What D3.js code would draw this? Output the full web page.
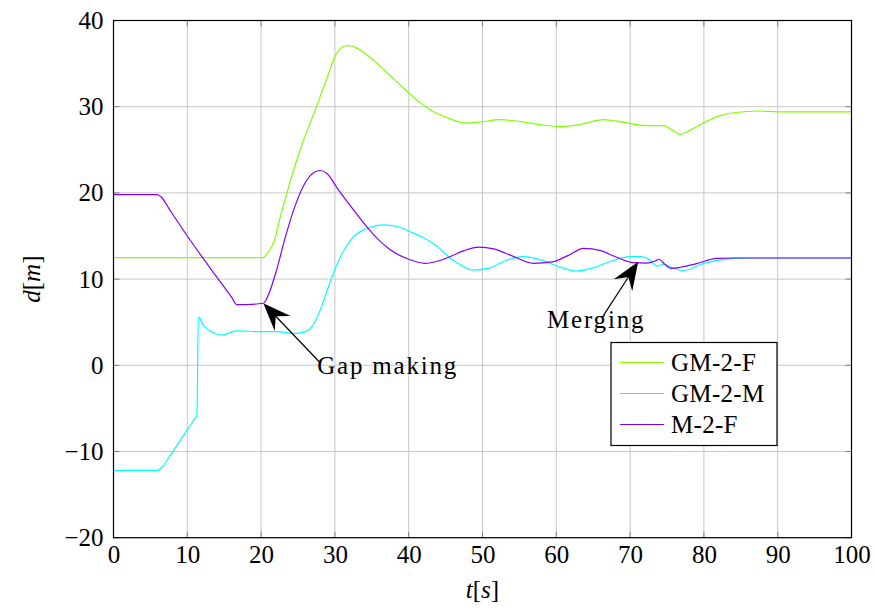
<!DOCTYPE html>
<html>
<head>
<meta charset="utf-8">
<script src="https://cdn.jsdelivr.net/npm/d3@7"></script>
<style>
  html, body { margin: 0; padding: 0; background: #fff; }
  svg { display: block; }
</style>
</head>
<body>
<div id="chart"></div>
<script>
// values
const xTicks = [0, 10, 20, 30, 40, 50, 60, 70, 80, 90, 100];
const yTicks = [-20, -10, 0, 10, 20, 30, 40];

const gm2fT = [0, 20.3, 21, 21.7, 22.6, 23.5, 25.3, 27.5, 29, 30, 31, 31.8, 33, 34.5, 36, 38, 40, 41.5, 43, 45, 47.8, 49.5, 52.4, 55, 58, 60.5, 63, 66.4, 69, 72.2, 74.5, 75.5, 76.8, 78, 79.9, 82, 84, 87.6, 90, 100];
const gm2fD = [12.5, 12.5, 13.2, 14.2, 17.2, 20, 25, 30, 33.5, 35.8, 36.9, 37.1, 36.8, 35.9, 34.8, 33.2, 31.6, 30.5, 29.6, 28.8, 28.1, 28.2, 28.5, 28.3, 27.9, 27.7, 27.9, 28.5, 28.2, 27.8, 27.8, 27.4, 26.8, 27.2, 28.1, 28.9, 29.3, 29.5, 29.4, 29.4];

const gm2mT = [0, 5.9, 6.6, 7.5, 9.4, 11.0, 11.3, 11.5, 12.2, 13.5, 14.7, 15.8, 16.7, 19.8, 22, 24.8, 26, 27, 28, 29, 29.8, 31, 32.5, 34.5, 36.6, 38.5, 40.2, 42, 43.3, 46, 48.75, 51, 53, 55.5, 58, 60.5, 62.8, 65, 67.5, 70, 71.5, 72.7, 73.6, 74.5, 75.5, 77.2, 79.9, 82, 84, 86, 100];
const gm2mD = [-12.2, -12.2, -11.8, -10.7, -8.25, -6.2, -5.8, 5.6, 4.6, 3.8, 3.5, 3.8, 4.0, 3.9, 3.9, 3.7, 3.9, 4.6, 6.4, 8.8, 10.7, 13.0, 14.9, 15.9, 16.3, 16.1, 15.5, 14.8, 14.15, 12.2, 11.05, 11.3, 12.1, 12.6, 12.2, 11.4, 10.94, 11.3, 12.1, 12.6, 12.6, 12.2, 11.5, 11.7, 11.4, 11.0, 11.8, 12.2, 12.4, 12.45, 12.45];

const m2fT = [0, 5.9, 6.5, 7.5, 10, 13, 16, 16.7, 18, 20.3, 21, 22.1, 23.2, 24.4, 26.2, 27.2, 28, 29, 30.2, 32, 34.3, 36, 37.5, 40, 42.2, 44, 45.6, 47.5, 49.5, 51.5, 54, 56.9, 59.5, 61.5, 63.7, 66, 68, 70.4, 72.2, 73.4, 73.9, 74.6, 75.6, 77, 79, 81.7, 84, 100];
const m2fD = [19.8, 19.8, 19.5, 18.2, 15.0, 11.4, 7.9, 7.05, 7.05, 7.2, 8.2, 11.05, 14.6, 18, 21.5, 22.4, 22.6, 22.2, 20.7, 18.6, 16.1, 14.5, 13.4, 12.3, 11.83, 12.1, 12.6, 13.3, 13.7, 13.5, 12.7, 11.83, 12.0, 12.7, 13.57, 13.3, 12.6, 11.9, 11.85, 12.1, 12.3, 11.8, 11.25, 11.4, 11.8, 12.4, 12.45, 12.45];

const seriesNames = ['GM-2-F', 'GM-2-M', 'M-2-F'];
const seriesColors = ['#80ff00', '#00ffff', '#8000ff'];

const series = [
  { name: seriesNames[0], color: seriesColors[0], values: gm2fT.map((t, i) => ({ t, d: gm2fD[i] })) },
  { name: seriesNames[1], color: seriesColors[1], values: gm2mT.map((t, i) => ({ t, d: gm2mD[i] })) },
  { name: seriesNames[2], color: seriesColors[2], values: m2fT.map((t, i) => ({ t, d: m2fD[i] })) }
];

const annotations = [
  { label: 'Gap making', from: [28, 0.3], to: [20.3, 7.2], textAt: [27.6, 0], anchor: 'start' },
  { label: 'Merging', from: [66.4, 5.8], to: [71.1, 12.0], textAt: [65.4, 5.3], anchor: 'middle' }
];

const FONT = 'Liberation Serif';
const FS = 25;

const totalW = 875, totalH = 611;
const margin = { top: 20.5, right: 23.5, bottom: 73.3, left: 113.5 };
const width = totalW - margin.left - margin.right;
const height = totalH - margin.top - margin.bottom;

const svg = d3.select('#chart')
  .append('svg')
  .attr('width', totalW)
  .attr('height', totalH)
  .attr('font-family', FONT)
  .attr('font-size', FS);

const g = svg.append('g')
  .attr('transform', `translate(${margin.left},${margin.top})`);

const x = d3.scaleLinear().domain([0, 100]).range([0, width]);
const y = d3.scaleLinear().domain([-20, 40]).range([height, 0]);

// grid
g.append('g')
  .selectAll('line')
  .data(xTicks)
  .join('line')
  .attr('x1', d => x(d)).attr('x2', d => x(d))
  .attr('y1', 0).attr('y2', height)
  .attr('stroke', '#c8c8c8')
  .attr('stroke-width', 1);

g.append('g')
  .selectAll('line')
  .data(yTicks)
  .join('line')
  .attr('y1', d => y(d)).attr('y2', d => y(d))
  .attr('x1', 0).attr('x2', width)
  .attr('stroke', '#c8c8c8')
  .attr('stroke-width', 1);

// inner tick marks on all four sides
const tickLen = 6;
const ticks = g.append('g').attr('stroke', '#808080').attr('stroke-width', 1);
xTicks.forEach(t => {
  ticks.append('line').attr('x1', x(t)).attr('x2', x(t)).attr('y1', height).attr('y2', height - tickLen);
  ticks.append('line').attr('x1', x(t)).attr('x2', x(t)).attr('y1', 0).attr('y2', tickLen);
});
yTicks.forEach(v => {
  ticks.append('line').attr('y1', y(v)).attr('y2', y(v)).attr('x1', 0).attr('x2', tickLen);
  ticks.append('line').attr('y1', y(v)).attr('y2', y(v)).attr('x1', width).attr('x2', width - tickLen);
});

// tick labels via d3 axes
const xAxis = g.append('g')
  .attr('transform', `translate(0,${height})`)
  .call(d3.axisBottom(x).tickValues(xTicks).tickSize(0).tickPadding(8).tickFormat(d3.format('d')))
  .attr('font-family', FONT)
  .attr('font-size', FS);
xAxis.select('.domain').remove();
xAxis.selectAll('text').attr('fill', '#000');

const yAxis = g.append('g')
  .call(d3.axisLeft(y).tickValues(yTicks).tickSize(0).tickPadding(10)
    .tickFormat(d => d < 0 ? '\u2212' + Math.abs(d) : d))
  .attr('font-family', FONT)
  .attr('font-size', FS);
yAxis.select('.domain').remove();
yAxis.selectAll('text').attr('fill', '#000');

// lines
const line = d3.line()
  .x(d => x(d.t))
  .y(d => y(d.d))
  .curve(d3.curveMonotoneX);

g.append('g')
  .selectAll('path')
  .data(series)
  .join('path')
  .attr('d', d => line(d.values))
  .attr('fill', 'none')
  .attr('stroke', d => d.color)
  .attr('stroke-width', 1.2);

// frame
g.append('rect')
  .attr('width', width).attr('height', height)
  .attr('fill', 'none')
  .attr('stroke', '#000')
  .attr('stroke-width', 1.2);

// annotations with arrows
annotations.forEach(a => {
  const x0 = x(a.from[0]), y0 = y(a.from[1]);
  const x1 = x(a.to[0]), y1 = y(a.to[1]);
  const ang = Math.atan2(y1 - y0, x1 - x0);
  const L = 28, W = 11, notch = 18;
  const bx = x1 - L * Math.cos(ang), by = y1 - L * Math.sin(ang);
  const nx = x1 - notch * Math.cos(ang), ny = y1 - notch * Math.sin(ang);
  const px = -Math.sin(ang), py = Math.cos(ang);

  g.append('line')
    .attr('x1', x0).attr('y1', y0)
    .attr('x2', nx).attr('y2', ny)
    .attr('stroke', '#000')
    .attr('stroke-width', 1.2);

  g.append('path')
    .attr('d', `M${x1},${y1} L${bx + W * px},${by + W * py} L${nx},${ny} L${bx - W * px},${by - W * py} Z`)
    .attr('fill', '#000');

  g.append('text')
    .attr('x', x(a.textAt[0]))
    .attr('y', y(a.textAt[1]))
    .attr('dy', '0.33em')
    .attr('text-anchor', a.anchor)
    .attr('letter-spacing', 1.8)
    .text(a.label);
});

// legend
const legend = svg.append('g').attr('transform', 'translate(611,342.5)');
legend.append('rect')
  .attr('width', 166).attr('height', 103)
  .attr('fill', '#fff')
  .attr('stroke', '#000')
  .attr('stroke-width', 1.2);

const rows = legend.selectAll('g.row')
  .data(series)
  .join('g')
  .attr('class', 'row')
  .attr('transform', (d, i) => `translate(0,${20 + i * 31})`);

rows.append('line')
  .attr('x1', 9).attr('x2', 53)
  .attr('stroke', d => d.color)
  .attr('stroke-width', 1.2);

rows.append('text')
  .attr('x', 60)
  .attr('dy', '0.33em')
  .attr('letter-spacing', 0.3)
  .text(d => d.name);

// axis titles
const xt = svg.append('text')
  .attr('x', margin.left + width / 2)
  .attr('y', 598)
  .attr('text-anchor', 'middle');
xt.append('tspan').attr('font-style', 'italic').text('t');
xt.append('tspan').text('[');
xt.append('tspan').attr('font-style', 'italic').text('s');
xt.append('tspan').text(']');

const yt = svg.append('text')
  .attr('transform', `translate(40,${margin.top + height / 2}) rotate(-90)`)
  .attr('text-anchor', 'middle');
yt.append('tspan').attr('font-style', 'italic').text('d');
yt.append('tspan').text('[');
yt.append('tspan').attr('font-style', 'italic').text('m');
yt.append('tspan').text(']');
</script>
</body>
</html>
